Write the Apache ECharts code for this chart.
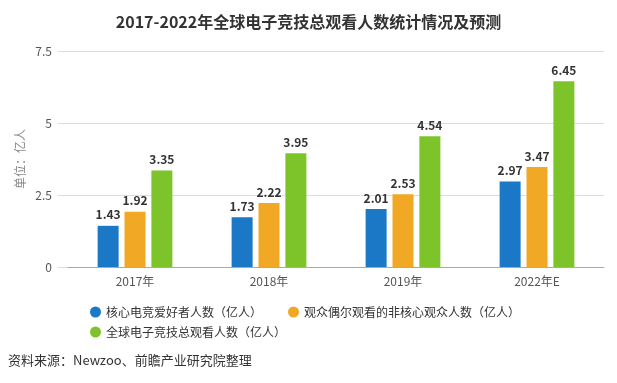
<!DOCTYPE html>
<html>
<head>
<meta charset="utf-8">
<script src="https://cdn.jsdelivr.net/npm/echarts@6/dist/echarts.min.js"></script>
<style>
html,body{margin:0;padding:0;background:#fff;}
#chart{width:617px;height:383px;}
</style>
</head>
<body>
<div id="chart"></div>
<script>
const categories = ['2017年', '2018年', '2019年', '2022年E'];
const coreFans = [1.43, 1.73, 2.01, 2.97];
const casualViewers = [1.92, 2.22, 2.53, 3.47];
const totalViewers = [3.35, 3.95, 4.54, 6.45];
const yTicks = [0, 2.5, 5, 7.5];
const seriesNames = ['核心电竞爱好者人数（亿人）', '观众偶尔观看的非核心观众人数（亿人）', '全球电子竞技总观看人数（亿人）'];
const colors = ['#1a78c6', '#f1a925', '#7cc42a'];

const font = '"Noto Sans CJK SC", "Noto Sans", sans-serif';
const chart = echarts.init(document.getElementById('chart'), null, {renderer: 'canvas'});

const labelStyle = {
  show: true, position: 'top', distance: 5,
  fontSize: 12, fontWeight: 'bold', color: '#333', fontFamily: font
};

function mk(name, data, color) {
  return {
    name: name, type: 'bar', data: data,
    xAxisIndex: 1, yAxisIndex: 1,
    barWidth: 21, barGap: '28%',
    itemStyle: {color: color},
    label: labelStyle
  };
}

const yMin = yTicks[0], yMax = yTicks[yTicks.length - 1], yStep = yTicks[1] - yTicks[0];

chart.setOption({
  animation: false,
  textStyle: {fontFamily: font},
  title: {
    text: '2017-2022年全球电子竞技总观看人数统计情况及预测',
    left: 'center', top: 9,
    textStyle: {fontSize: 16, fontWeight: 'bold', color: '#333', fontFamily: font}
  },
  legend: [{
    data: [seriesNames[0], seriesNames[1]],
    left: 85, top: 301, icon: 'circle', itemWidth: 11, itemHeight: 11, itemGap: 26,
    textStyle: {fontSize: 12, color: '#333', fontFamily: font}
  }, {
    data: [seriesNames[2]],
    left: 85, top: 321, icon: 'circle', itemWidth: 11, itemHeight: 11,
    textStyle: {fontSize: 12, color: '#333', fontFamily: font}
  }],
  grid: [
    {left: 58, right: 13, top: 51, bottom: 116},
    {left: 68, right: 13, top: 51, bottom: 116}
  ],
  xAxis: [{
    gridIndex: 0, type: 'value', show: false, min: 0, max: 1
  }, {
    gridIndex: 1, type: 'category', data: categories,
    axisLine: {lineStyle: {color: '#aaa'}},
    axisTick: {alignWithLabel: true, lineStyle: {color: '#aaa'}},
    axisLabel: {fontSize: 12, color: '#555', margin: 8}
  }],
  yAxis: [{
    gridIndex: 0, type: 'value', min: yMin, max: yMax, interval: yStep,
    name: '单位：亿人', nameLocation: 'middle', nameGap: 32, nameRotate: 90,
    nameMoveOverlap: false,
    nameTextStyle: {fontSize: 12, color: '#888'},
    axisLine: {show: false}, axisTick: {show: false},
    axisLabel: {fontSize: 12, color: '#555', margin: 6},
    splitLine: {lineStyle: {color: '#ddd'}}
  }, {
    gridIndex: 1, type: 'value', min: yMin, max: yMax, interval: yStep,
    axisLine: {show: false}, axisTick: {show: false},
    axisLabel: {show: false}, splitLine: {show: false}
  }],
  series: [
    mk(seriesNames[0], coreFans, colors[0]),
    mk(seriesNames[1], casualViewers, colors[1]),
    mk(seriesNames[2], totalViewers, colors[2])
  ],
  graphic: [{
    type: 'text', left: 8, top: 354,
    style: {text: '资料来源：Newzoo、前瞻产业研究院整理', fontSize: 13, fill: '#333', fontFamily: font}
  }]
});
</script>
</body>
</html>
